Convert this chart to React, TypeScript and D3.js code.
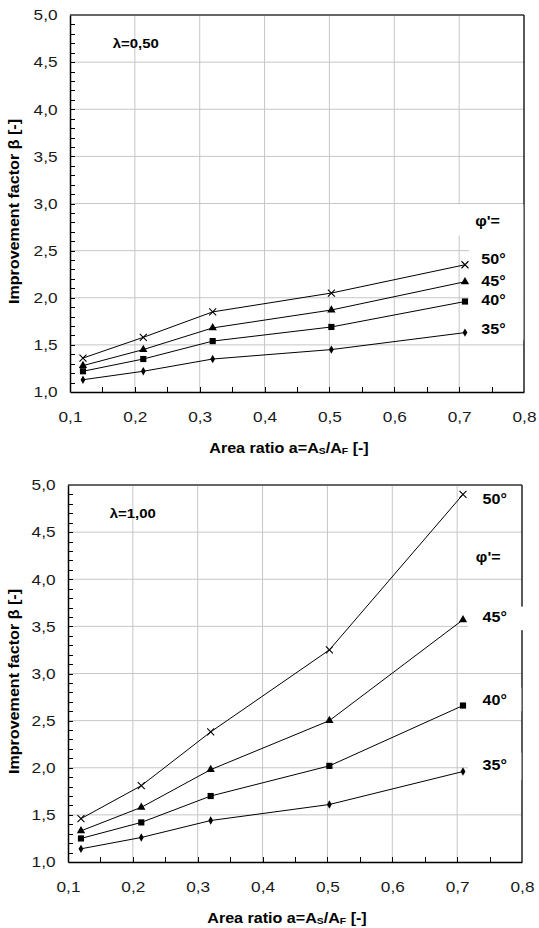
import { useEffect, useRef } from "react";
import * as d3 from "d3";

// x positions of the measured points (area ratio a = A_S/A_F)
const areaRatio = [0.12, 0.213, 0.32, 0.503, 0.709];

// friction angles
const phiLabels = ["50°", "45°", "40°", "35°"];
const markerKinds = ["cross", "triangle", "square", "diamond"];

// λ = 0,50
const beta050phi50 = [1.36, 1.58, 1.85, 2.05, 2.35];
const beta050phi45 = [1.28, 1.45, 1.68, 1.87, 2.17];
const beta050phi40 = [1.22, 1.35, 1.54, 1.69, 1.96];
const beta050phi35 = [1.13, 1.22, 1.35, 1.45, 1.63];

// λ = 1,00
const beta100phi50 = [1.46, 1.81, 2.38, 3.25, 4.9];
const beta100phi45 = [1.33, 1.58, 1.98, 2.5, 3.57];
const beta100phi40 = [1.25, 1.42, 1.7, 2.02, 2.66];
const beta100phi35 = [1.14, 1.26, 1.44, 1.61, 1.96];

const xTicks = [0.1, 0.2, 0.3, 0.4, 0.5, 0.6, 0.7, 0.8];
const yTicks = [1, 1.5, 2, 2.5, 3, 3.5, 4, 4.5, 5];

const xTitle = "Area ratio a=A";
const yTitle = "Improvement factor β [-]";

const FONT = "'Liberation Sans', Arial, sans-serif";
const STRETCH = "scaleX(1.15)";

const panels = [
  {
    lambda: "λ=0,50",
    series: [beta050phi50, beta050phi45, beta050phi40, beta050phi35],
    box: { left: 70, right: 524, top: 15, bottom: 392 },
    // annotation spots, in data units
    lambdaAt: [0.2015, 4.7],
    phiAt: [0.744, 2.81],
    labelAt: [
      [0.753, 2.41],
      [0.753, 2.18],
      [0.753, 1.98],
      [0.753, 1.67],
    ],
    // white label backgrounds, in data units [x0, x1, yTop, yBottom]
    covers: [
      [0.682, 0.799, 2.99, 2.66],
      [0.715, 0.799, 2.66, 1.55],
    ],
  },
  {
    lambda: "λ=1,00",
    series: [beta100phi50, beta100phi45, beta100phi40, beta100phi35],
    box: { left: 68, right: 522, top: 485, bottom: 862 },
    lambdaAt: [0.2, 4.7],
    phiAt: [0.748, 4.24],
    labelAt: [
      [0.758, 4.85],
      [0.758, 3.6],
      [0.758, 2.72],
      [0.758, 2.03],
    ],
    covers: [
      [0.717, 0.83, 3.71, 3.46],
      [0.717, 0.799, 2.85, 2.6],
      [0.717, 0.799, 2.16, 1.87],
    ],
  },
];

const fmt = (v) => d3.format(".1f")(v).replace(".", ",");

function Chart() {
  const svgRef = useRef(null);

  useEffect(() => {
    const svg = d3.select(svgRef.current);
    svg.selectAll("*").remove();

    panels.forEach((p) => {
      const { left, right, top, bottom } = p.box;

      const x = d3.scaleLinear().domain([0.1, 0.8]).range([left, right]);
      const y = d3.scaleLinear().domain([1, 5]).range([bottom, top]);

      const g = svg.append("g");

      // grid
      g.selectAll(".hg")
        .data(yTicks.slice(1, -1))
        .enter()
        .append("line")
        .attr("x1", left)
        .attr("x2", right)
        .attr("y1", (d) => y(d))
        .attr("y2", (d) => y(d))
        .attr("stroke", "#c6c6c6")
        .attr("stroke-width", 1);

      g.selectAll(".vg")
        .data(xTicks.slice(1, -1))
        .enter()
        .append("line")
        .attr("x1", (d) => x(d))
        .attr("x2", (d) => x(d))
        .attr("y1", top)
        .attr("y2", bottom)
        .attr("stroke", "#c6c6c6")
        .attr("stroke-width", 1);

      // frame
      g.append("line")
        .attr("x1", left)
        .attr("x2", right)
        .attr("y1", top)
        .attr("y2", top)
        .attr("stroke", "#666")
        .attr("stroke-width", 2);

      g.append("line")
        .attr("x1", right)
        .attr("x2", right)
        .attr("y1", top)
        .attr("y2", bottom)
        .attr("stroke", "#222")
        .attr("stroke-width", 1.5);

      // white boxes behind the labels
      p.covers.forEach((c) => {
        g.append("rect")
          .attr("x", x(c[0]))
          .attr("y", y(c[2]))
          .attr("width", x(c[1]) - x(c[0]))
          .attr("height", y(c[3]) - y(c[2]))
          .attr("fill", "#fff");
      });

      // axes
      const yAxis = d3
        .axisLeft(y)
        .tickValues(yTicks)
        .tickFormat(fmt)
        .tickSize(0)
        .tickPadding(14);

      const ya = g
        .append("g")
        .attr("transform", `translate(${left},0)`)
        .call(yAxis);
      ya.select(".domain").attr("stroke", "#000").attr("stroke-width", 1.5);

      const xAxis = d3
        .axisBottom(x)
        .tickValues(xTicks)
        .tickFormat(fmt)
        .tickSize(0)
        .tickPadding(19);

      const xa = g
        .append("g")
        .attr("transform", `translate(0,${bottom})`)
        .call(xAxis);
      xa.select(".domain").attr("stroke", "#000").attr("stroke-width", 1.5);

      [ya, xa].forEach((a) =>
        a
          .selectAll("text")
          .attr("font-family", FONT)
          .attr("font-size", 15)
          .attr("fill", "#1a1a1a")
          .style("transform-box", "fill-box")
          .style("transform-origin", "center")
          .style("transform", STRETCH)
      );

      // inward minor ticks
      const yMinor = d3.range(1.1, 5, 0.1);
      g.selectAll(".ym")
        .data(yMinor)
        .enter()
        .append("line")
        .attr("x1", left)
        .attr("x2", left + 5)
        .attr("y1", (d) => Math.round(y(d)) + 0.5)
        .attr("y2", (d) => Math.round(y(d)) + 0.5)
        .attr("stroke", "#000")
        .attr("stroke-width", 1);

      const xMinor = d3.range(0.15, 0.8, 0.05);
      g.selectAll(".xm")
        .data(xMinor)
        .enter()
        .append("line")
        .attr("x1", (d) => Math.round(x(d)) + 0.5)
        .attr("x2", (d) => Math.round(x(d)) + 0.5)
        .attr("y1", bottom)
        .attr("y2", bottom - 5)
        .attr("stroke", "#000")
        .attr("stroke-width", 1);

      // series
      const line = d3
        .line()
        .x((d) => x(d[0]))
        .y((d) => y(d[1]));

      p.series.forEach((vals, i) => {
        const pts = areaRatio.map((a, k) => [a, vals[k]]);

        g.append("path")
          .attr("d", line(pts))
          .attr("fill", "none")
          .attr("stroke", "#000")
          .attr("stroke-width", 1);

        const kind = markerKinds[i];

        pts.forEach((pt) => {
          const cx = x(pt[0]);
          const cy = y(pt[1]);

          if (kind === "cross") {
            g.append("path")
              .attr("d", `M${cx - 3.5},${cy - 3.5}L${cx + 3.5},${cy + 3.5}M${cx - 3.5},${cy + 3.5}L${cx + 3.5},${cy - 3.5}`)
              .attr("stroke", "#000")
              .attr("stroke-width", 1.1)
              .attr("fill", "none");
          } else {
            const sym =
              kind === "triangle"
                ? d3.symbolTriangle
                : kind === "square"
                ? d3.symbolSquare
                : d3.symbolDiamond;
            const size = kind === "triangle" ? 30 : kind === "square" ? 38 : 20;
            g.append("path")
              .attr("d", d3.symbol(sym, size)())
              .attr("transform", `translate(${cx},${cy})`)
              .attr("fill", "#000");
          }
        });
      });

      // annotations
      const boldText = (txt, at, size) =>
        g
          .append("text")
          .attr("x", x(at[0]))
          .attr("y", y(at[1]))
          .attr("text-anchor", "middle")
          .attr("dominant-baseline", "central")
          .attr("font-family", FONT)
          .attr("font-weight", "bold")
          .attr("font-size", size)
          .attr("fill", "#000")
          .style("transform-box", "fill-box")
          .style("transform-origin", "center")
          .style("transform", STRETCH)
          .text(txt);

      boldText(p.lambda, p.lambdaAt, 13);
      boldText("φ'=", p.phiAt, 14);
      p.labelAt.forEach((at, i) => boldText(phiLabels[i], at, 14));

      // axis titles
      const xt = g
        .append("text")
        .attr("x", (left + right) / 2 - 8)
        .attr("y", bottom + 55)
        .attr("text-anchor", "middle")
        .attr("dominant-baseline", "central")
        .attr("font-family", FONT)
        .attr("font-weight", "bold")
        .attr("font-size", 14)
        .attr("fill", "#000")
        .style("transform-box", "fill-box")
        .style("transform-origin", "center")
        .style("transform", STRETCH);

      xt.append("tspan").text(xTitle);
      xt.append("tspan").attr("font-size", 9).attr("dy", 3).text("S");
      xt.append("tspan").attr("dy", -3).text("/A");
      xt.append("tspan").attr("font-size", 9).attr("dy", 3).text("F");
      xt.append("tspan").attr("dy", -3).text(" [-]");

      const cy = (top + bottom) / 2 + 8;
      g.append("g")
        .attr("transform", `translate(14,${cy}) rotate(-90)`)
        .append("text")
        .attr("text-anchor", "middle")
        .attr("dominant-baseline", "central")
        .attr("font-family", FONT)
        .attr("font-weight", "bold")
        .attr("font-size", 14)
        .attr("fill", "#000")
        .style("transform-box", "fill-box")
        .style("transform-origin", "center")
        .style("transform", STRETCH)
        .text(yTitle);
    });
  }, []);

  return <svg ref={svgRef} width={539} height={928} />;
}

export default function App() {
  return (
    <div style={{ position: "absolute", left: 0, top: 0, background: "#fff" }}>
      <Chart />
    </div>
  );
}
